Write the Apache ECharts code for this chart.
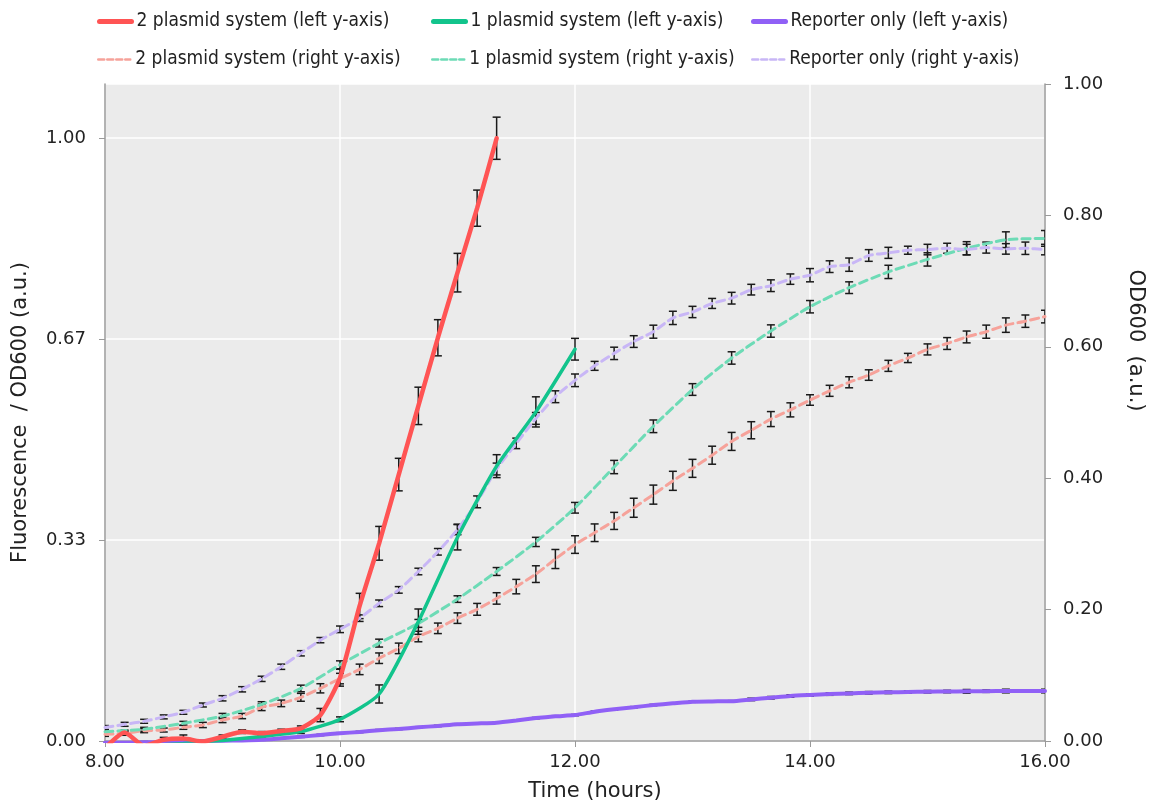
<!DOCTYPE html>
<html>
<head>
<meta charset="utf-8">
<script src="https://cdn.jsdelivr.net/npm/echarts@6/dist/echarts.min.js"></script>
<style>
html,body{margin:0;padding:0;background:#ffffff;}
#chart{width:1151px;height:802px;}
</style>
</head>
<body>
<div id="chart"></div>
<script>
// ---- data ----
const times10 = [8.000, 8.167, 8.333, 8.500, 8.667, 8.833, 9.000, 9.167, 9.333, 9.500, 9.667, 9.833,
  10.000, 10.167, 10.333, 10.500, 10.667, 10.833, 11.000, 11.167, 11.333, 11.500, 11.667, 11.833,
  12.000, 12.167, 12.333, 12.500, 12.667, 12.833, 13.000, 13.167, 13.333, 13.500, 13.667, 13.833,
  14.000, 14.167, 14.333, 14.500, 14.667, 14.833, 15.000, 15.167, 15.333, 15.500, 15.667, 15.833, 16.000];
const times20 = [8.000, 8.333, 8.667, 9.000, 9.333, 9.667, 10.000, 10.333, 10.667, 11.000, 11.333, 11.667,
  12.000, 12.333, 12.667, 13.000, 13.333, 13.667, 14.000, 14.333, 14.667, 15.000, 15.333, 15.667, 16.000];

const seriesNames = [
  '2 plasmid system (left y-axis)', '1 plasmid system (left y-axis)', 'Reporter only (left y-axis)',
  '2 plasmid system (right y-axis)', '1 plasmid system (right y-axis)', 'Reporter only (right y-axis)'
];

// Fluorescence / OD600 (left axis)
const redFluor = [-0.012, 0.014, -0.008, 0.002, 0.004, -0.001, 0.007, 0.0155, 0.0127, 0.0166, 0.021, 0.043,
  0.105, 0.224, 0.328, 0.442, 0.556, 0.669, 0.777, 0.884, 1.000];
const redFluorErr = [0.003, 0.004, 0.003, 0.004, 0.006, 0.003, 0.003, 0.003, 0.003, 0.003, 0.004, 0.011,
  0.014, 0.021, 0.028, 0.027, 0.031, 0.030, 0.032, 0.030, 0.035];

const greenFluor = [-0.010, -0.008, -0.004, 0.001, 0.0075, 0.0155, 0.036, 0.078, 0.198, 0.338, 0.456, 0.546, 0.650];
const greenFluorErr = [0.002, 0.002, 0.002, 0.002, 0.002, 0.003, 0.004, 0.015, 0.021, 0.021, 0.019, 0.025, 0.018];

const purpleFluor = [-0.003, -0.003, -0.002, -0.002, -0.001, 0.000, 0.0005, 0.001, 0.002, 0.0045, 0.007, 0.010,
  0.0128, 0.015, 0.018, 0.020, 0.0227, 0.025, 0.0277, 0.029, 0.0304, 0.034, 0.038, 0.041,
  0.043, 0.0486, 0.0525, 0.056, 0.0597, 0.0625, 0.0652, 0.0657, 0.066, 0.069, 0.0718, 0.0746,
  0.0763, 0.0778, 0.079, 0.080, 0.0807, 0.0813, 0.0818, 0.0821, 0.0824, 0.0827, 0.0829, 0.0829, 0.0829];
const purpleFluorErr = [0.001, 0.001, 0.001, 0.001, 0.001, 0.001, 0.001, 0.001, 0.001, 0.001, 0.001, 0.001,
  0.001, 0.001, 0.001, 0.001, 0.001, 0.001, 0.001, 0.001, 0.001, 0.001, 0.001, 0.001,
  0.001, 0.001, 0.001, 0.001, 0.001, 0.001, 0.001, 0.001, 0.001, 0.002, 0.002, 0.002,
  0.002, 0.002, 0.002, 0.002, 0.002, 0.002, 0.002, 0.002, 0.003, 0.002, 0.003, 0.002, 0.003];

// OD600 (right axis)
const redOD = [0.0101, 0.0117, 0.0157, 0.0167, 0.0208, 0.0244, 0.032, 0.038, 0.0513, 0.0573, 0.0665, 0.0802,
  0.095, 0.109, 0.126, 0.141, 0.159, 0.1715, 0.187, 0.2004, 0.217, 0.235, 0.254, 0.277,
  0.299, 0.317, 0.335, 0.355, 0.375, 0.396, 0.415, 0.435, 0.456, 0.473, 0.490, 0.504,
  0.519, 0.533, 0.546, 0.557, 0.571, 0.583, 0.596, 0.605, 0.615, 0.623, 0.633, 0.639, 0.646];
const redODErr = [0.003, 0.003, 0.003, 0.003, 0.003, 0.004, 0.004, 0.004, 0.005, 0.005, 0.006, 0.007,
  0.008, 0.008, 0.008, 0.008, 0.008, 0.008, 0.008, 0.009, 0.0087, 0.011, 0.0127, 0.0145,
  0.0134, 0.0134, 0.013, 0.0145, 0.0145, 0.0145, 0.0137, 0.0137, 0.0137, 0.013, 0.0114, 0.0107,
  0.008, 0.0084, 0.0084, 0.008, 0.0084, 0.007, 0.0084, 0.009, 0.009, 0.010, 0.011, 0.0094, 0.0096];

const greenOD = [0.0142, 0.0178, 0.0269, 0.038, 0.0558, 0.080, 0.116, 0.149, 0.179, 0.216, 0.258, 0.303,
  0.355, 0.417, 0.479, 0.535, 0.583, 0.624, 0.661, 0.690, 0.714, 0.733, 0.750, 0.763, 0.765];
const greenODErr = [0.003, 0.003, 0.003, 0.004, 0.004, 0.005, 0.006, 0.006, 0.006, 0.005, 0.006, 0.007,
  0.0081, 0.0101, 0.0096, 0.0089, 0.0094, 0.0094, 0.0094, 0.0089, 0.0101, 0.0101, 0.010, 0.012, 0.012];

const purpleOD = [0.0205, 0.0254, 0.030, 0.0367, 0.0437, 0.0548, 0.065, 0.0787, 0.0946, 0.113, 0.1335, 0.1535,
  0.170, 0.187, 0.2096, 0.230, 0.258, 0.288, 0.322, 0.364, 0.414, 0.453, 0.491, 0.524,
  0.549, 0.571, 0.590, 0.608, 0.623, 0.644, 0.653, 0.666, 0.674, 0.687, 0.693, 0.703,
  0.709, 0.722, 0.725, 0.739, 0.743, 0.747, 0.748, 0.750, 0.748, 0.751, 0.749, 0.750, 0.748];
const purpleODErr = [0.003, 0.003, 0.003, 0.003, 0.003, 0.003, 0.004, 0.004, 0.004, 0.004, 0.004, 0.004,
  0.005, 0.005, 0.005, 0.005, 0.005, 0.005, 0.008, 0.009, 0.009, 0.008, 0.009, 0.009,
  0.0096, 0.0068, 0.0094, 0.0089, 0.0099, 0.0101, 0.0086, 0.0076, 0.0089, 0.0081, 0.0089, 0.0079,
  0.0101, 0.0089, 0.0101, 0.0089, 0.0084, 0.0061, 0.008, 0.0076, 0.008, 0.0084, 0.008, 0.0094, 0.008];

const leftTicks = ['0.00', '0.33', '0.67', '1.00'];
const rightTicks = ['0.00', '0.20', '0.40', '0.60', '0.80', '1.00'];
const xTicks = ['8.00', '10.00', '12.00', '14.00', '16.00'];

// ---- chart ----
const colors = {
  redS: '#ff5454', greenS: '#12c48c', purpleS: '#9060f6',
  redD: '#f6a29a', greenD: '#6ddbb6', purpleD: '#c8b6f6'
};
const FONT = 'DejaVu Sans';
const LFONT = 'DejaVu Sans Condensed';

function pairs(t, v) { return v.map((y, i) => [t[i], y]); }
function triples(t, v, e) { return v.map((y, i) => [t[i], y, e[i]]); }

function errSeries(t, v, e, yIdx) {
  return {
    type: 'custom',
    yAxisIndex: yIdx,
    clip: true,
    silent: true,
    z: 1,
    encode: { x: 0, y: 1 },
    data: triples(t, v, e),
    renderItem: function (params, api) {
      const x = api.value(0), y = api.value(1), er = api.value(2);
      const top = api.coord([x, y + er]);
      const bot = api.coord([x, y - er]);
      const hw = 4;
      const st = { stroke: '#1a1a1a', lineWidth: 1.5 };
      return {
        type: 'group',
        children: [
          { type: 'line', shape: { x1: top[0], y1: top[1], x2: bot[0], y2: bot[1] }, style: st },
          { type: 'line', shape: { x1: top[0] - hw, y1: top[1], x2: top[0] + hw, y2: top[1] }, style: st },
          { type: 'line', shape: { x1: bot[0] - hw, y1: bot[1], x2: bot[0] + hw, y2: bot[1] }, style: st }
        ]
      };
    }
  };
}

function lineSeries(name, t, v, color, yIdx, dashed, width) {
  return {
    name: name,
    type: 'line',
    yAxisIndex: yIdx,
    data: pairs(t, v),
    showSymbol: false,
    symbol: 'none',
    smooth: 0.2,
    clip: true,
    z: dashed ? 2 : 3,
    itemStyle: { color: color },
    lineStyle: { color: color, width: width, type: dashed ? [8, 5] : 'solid', cap: 'round' }
  };
}

const legendCols = [97, 431, 751];
const legendRows = [12, 50];
const legends = seriesNames.map((n, i) => {
  const row = Math.floor(i / 3);
  return {
    data: [n],
    left: legendCols[i % 3],
    top: legendRows[row],
    padding: 0,
    itemWidth: 32,
    itemHeight: 14,
    itemGap: 0,
    itemStyle: { opacity: 0 },
    lineStyle: row === 0 ? { width: 5, cap: 'round' } : { width: 2.5, type: [6, 3] },
    textStyle: { fontFamily: LFONT, fontSize: 19, color: '#222' }
  };
});

const chart = echarts.init(document.getElementById('chart'), null, { renderer: 'canvas' });
chart.setOption({
  animation: false,
  backgroundColor: '#ffffff',
  legend: legends,
  grid: { left: 105, right: 106, top: 84, bottom: 61, show: true, backgroundColor: '#ebebeb', borderWidth: 0,
    containLabel: false, outerBoundsMode: 'none' },
  xAxis: {
    type: 'value', min: 8, max: 16, interval: 2,
    name: 'Time (hours)', nameLocation: 'middle', nameGap: 40,
    nameTextStyle: { fontFamily: FONT, fontSize: 21, color: '#222', padding: [0, 0, 0, 40] },
    axisLine: { show: true, lineStyle: { color: '#9a9a9a', width: 1.5 } },
    axisTick: { show: true, length: 6, lineStyle: { color: '#9a9a9a' } },
    axisLabel: { fontFamily: FONT, fontSize: 18, color: '#222', margin: 12,
      formatter: function (v) { const i = Math.round((v - 8) / 2); return xTicks[i] !== undefined ? xTicks[i] : ''; } },
    splitLine: { show: true, lineStyle: { color: '#ffffff', width: 1.5 } }
  },
  yAxis: [
    {
      type: 'value', min: 0, max: 1.09, interval: 1 / 3, position: 'left',
      name: 'Fluorescence  / OD600 (a.u.)', nameLocation: 'middle', nameGap: 74,
      nameTextStyle: { fontFamily: FONT, fontSize: 21, color: '#222' },
      axisLine: { show: true, lineStyle: { color: '#9a9a9a', width: 1.5 } },
      axisTick: { show: true, length: 6, lineStyle: { color: '#9a9a9a' } },
      axisLabel: { fontFamily: FONT, fontSize: 18, color: '#222', margin: 19, showMaxLabel: false,
        formatter: function (v) { const i = Math.round(v * 3); return (Math.abs(v * 3 - i) < 1e-6 && leftTicks[i]) ? leftTicks[i] : ''; } },
      splitLine: { show: true, lineStyle: { color: '#ffffff', width: 1.5 } }
    },
    {
      type: 'value', min: 0, max: 1, interval: 0.2, position: 'right',
      name: 'OD600  (a.u.)', nameLocation: 'middle', nameGap: 80, nameRotate: -90,
      nameTextStyle: { fontFamily: FONT, fontSize: 21, color: '#222', padding: [0, 144, 0, 0] },
      axisLine: { show: true, lineStyle: { color: '#9a9a9a', width: 1.5 } },
      axisTick: { show: true, length: 6, lineStyle: { color: '#9a9a9a' } },
      axisLabel: { fontFamily: FONT, fontSize: 18, color: '#222', margin: 18,
        formatter: function (v) { const i = Math.round(v * 5); return rightTicks[i] || ''; } },
      splitLine: { show: false }
    }
  ],
  series: [
    lineSeries(seriesNames[3], times10, redOD, colors.redD, 1, true, 3),
    lineSeries(seriesNames[4], times20, greenOD, colors.greenD, 1, true, 3),
    lineSeries(seriesNames[5], times10, purpleOD, colors.purpleD, 1, true, 3),
    lineSeries(seriesNames[2], times10, purpleFluor, colors.purpleS, 0, false, 4),
    lineSeries(seriesNames[1], times20.slice(0, greenFluor.length), greenFluor, colors.greenS, 0, false, 3.5),
    lineSeries(seriesNames[0], times10.slice(0, redFluor.length), redFluor, colors.redS, 0, false, 4.5),
    errSeries(times10, redOD, redODErr, 1),
    errSeries(times20, greenOD, greenODErr, 1),
    errSeries(times10, purpleOD, purpleODErr, 1),
    errSeries(times10, purpleFluor, purpleFluorErr, 0),
    errSeries(times20.slice(0, greenFluor.length), greenFluor, greenFluorErr, 0),
    errSeries(times10.slice(0, redFluor.length), redFluor, redFluorErr, 0)
  ]
});
</script>
</body>
</html>
